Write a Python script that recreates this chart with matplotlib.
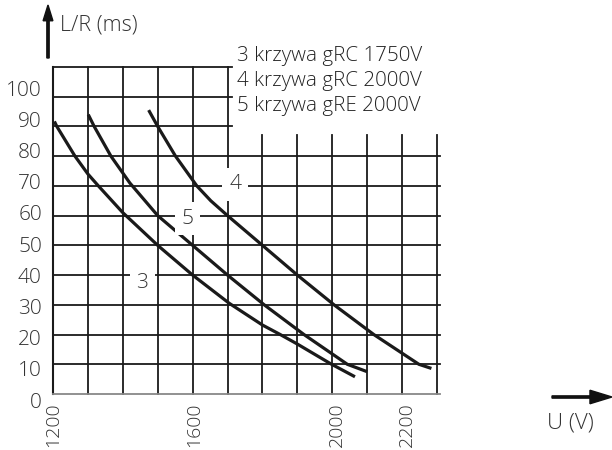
import matplotlib.pyplot as plt
from matplotlib import patches, transforms

plt.rcParams['font.family'] = ['Open Sans', 'DejaVu Sans']

# curves: (U in V, L/R in ms)
u3 = [1204, 1211, 1263, 1300, 1330, 1400, 1500, 1600, 1705, 1800, 1851, 1900, 1995, 2065]
lr3 = [91.7, 90, 80, 74, 70, 61, 50, 40, 30.5, 23.2, 20, 16.8, 10.2, 5.8]
u5 = [1301, 1318, 1366, 1420, 1500, 1600, 1700, 1805, 1919, 2043, 2100]
lr5 = [94, 90, 80, 71, 60, 50, 40, 30, 20, 10, 7.5]
u4 = [1474, 1500, 1551, 1612, 1652, 1700, 1800, 1900, 2005, 2119, 2248, 2284]
lr4 = [95.5, 90, 80, 70, 65, 60, 50, 40, 30, 20, 10, 8.6]

curve_labels = ['3', '5', '4']
label_pos = [(1456, 37.2), (1585, 59), (1722, 70.5)]

legend_lines = ['3 krzywa gRC 1750V', '4 krzywa gRC 2000V', '5 krzywa gRE 2000V']

xticks = [1200, 1600, 2000, 2200]
yticks = [0, 10, 20, 30, 40, 50, 60, 70, 80, 90, 100]

fig = plt.figure(figsize=(6.12, 4.5), dpi=100)
ax = fig.add_axes([53 / 612, 1 - 394 / 450, 384 / 612, 327 / 450])
ax.set_xlim(1200, 2300)
ax.set_ylim(0, 110)
for s in ax.spines.values():
    s.set_visible(False)

gc = '#1a1a1a'
tc = '#333333'
# grid: the upper right corner is left free for the text
for y in range(10, 90, 10):
    ax.plot([1200, 2310], [y, y], color=gc, lw=1.3, clip_on=False, zorder=1)
for y in [90, 100, 110]:
    ax.plot([1200, 1714], [y, y], color=gc, lw=1.3, clip_on=False, zorder=1)
for x in range(1300, 1800, 100):
    ax.plot([x, x], [0, 110], color=gc, lw=1.3, clip_on=False, zorder=1)
for x in range(1800, 2400, 100):
    ax.plot([x, x], [0, 87], color=gc, lw=1.3, clip_on=False, zorder=1)
ax.plot([1200, 1200], [0, 110], color=gc, lw=1.5, clip_on=False, zorder=1)
ax.plot([1200, 2310], [0, 0], color='#888888', lw=1.3, clip_on=False, zorder=1)

for u, lr in [(u3, lr3), (u5, lr5), (u4, lr4)]:
    ax.plot(u, lr, color=gc, lw=2.3, solid_capstyle='butt', solid_joinstyle='round', zorder=3)

for lab, (x, y) in zip(curve_labels, label_pos):
    ax.text(x, y, lab, fontsize=15, fontweight='light', color=tc, ha='center', va='center',
            zorder=4, bbox=dict(facecolor='white', edgecolor='none', pad=5))

for i, t in enumerate(legend_lines):
    ax.text(1728, 112 - i * 8.4, t, fontsize=14.8, fontweight='light', color='#222222',
            ha='left', va='baseline', clip_on=False)

ax.set_xticks(xticks)
ax.set_xticklabels([str(v) for v in xticks], rotation=90, fontsize=14, fontweight='light', color=tc)
ax.set_yticks(yticks)
ax.set_yticklabels([str(v) for v in yticks], fontsize=15, fontweight='light', color=tc)
ax.tick_params(axis='y', length=0, pad=8)
ax.tick_params(axis='x', length=0, pad=6)

# the printed labels sit a little off their grid lines
for v, lab in zip(yticks, ax.get_yticklabels()):
    dy = (0.145 * v - 6) / 100
    lab.set_transform(lab.get_transform() + transforms.ScaledTranslation(0, dy, fig.dpi_scale_trans))
for dx, lab in zip([0, 2, 5, 5], ax.get_xticklabels()):
    lab.set_transform(lab.get_transform() + transforms.ScaledTranslation(dx / 100, 0, fig.dpi_scale_trans))

# axis arrows and names
fig.patches.append(patches.FancyArrow(
    48 / 612, 1 - 58 / 450, 0, 53 / 450, width=0.0038, head_width=0.016, head_length=0.035,
    length_includes_head=True, color='#111111', transform=fig.transFigure))
fig.text(60 / 612, 1 - 30 / 450, 'L/R (ms)', fontsize=15.5, fontweight='light', color=tc, va='baseline')
fig.patches.append(patches.FancyArrow(
    552 / 612, 1 - 397 / 450, 60 / 612, 0, width=0.005, head_width=0.03, head_length=0.036,
    length_includes_head=True, color='#111111', transform=fig.transFigure))
fig.text(547 / 612, 1 - 429 / 450, 'U (V)', fontsize=16, fontweight='light', color=tc, va='baseline')

fig.savefig('out.png', dpi=100)
